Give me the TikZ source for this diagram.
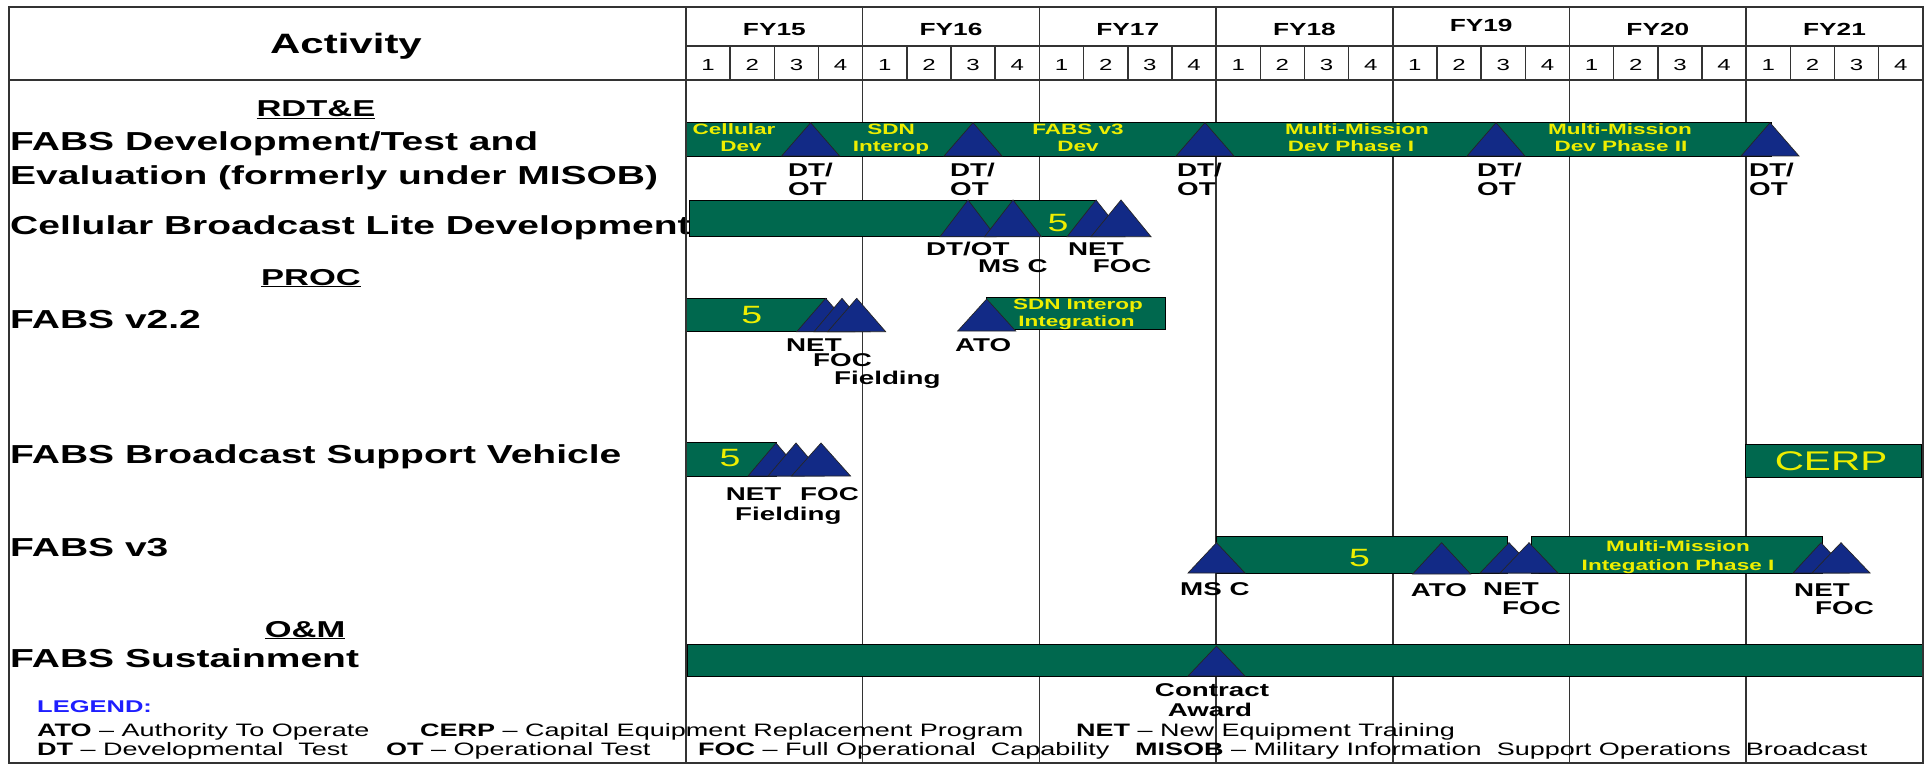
\documentclass[tikz,border=0pt]{standalone}
\usepackage{fontspec}
\setmainfont{Liberation Sans}[FakeStretch=1.5]
\definecolor{gbar}{RGB}{0,104,78}
\definecolor{navy}{RGB}{18,42,134}
\definecolor{yel}{RGB}{238,238,0}
\definecolor{legblue}{RGB}{30,30,255}
\newcommand{\mst}[4]{\filldraw[tri] (#1-#4,#3) -- (#1,#2) -- (#1+#4,#3) -- cycle;}
\tikzset{
  grid/.style={draw=black!80, line width=1.5pt},
  bar/.style={fill=gbar, draw=black, line width=0.9pt},
  tri/.style={fill=navy, draw=black!85, line width=0.7pt},
  lab/.style={font=\fontsize{26}{28}\selectfont\bfseries, anchor=base west, inner sep=0pt},
  sec/.style={font=\fontsize{23}{26}\selectfont\bfseries, anchor=base, inner sep=0pt},
  ylw/.style={font=\fontsize{15}{17}\selectfont\bfseries, text=yel, anchor=base, inner sep=0pt},
  bigfive/.style={font=\fontsize{25}{28}\selectfont, text=yel, anchor=base, inner sep=0pt},
  ms/.style={font=\fontsize{18.5}{20}\selectfont\bfseries, anchor=base west, inner sep=0pt},
  msc/.style={font=\fontsize{18.5}{20}\selectfont\bfseries, anchor=base, inner sep=0pt},
  leg/.style={font=\fontsize{18}{20}\selectfont, anchor=base west, inner sep=0pt},
  fy/.style={font=\fontsize{17.5}{20}\selectfont\bfseries, anchor=base, inner sep=0pt},
  qn/.style={font=\fontsize{16}{18}\selectfont, anchor=base, inner sep=0pt},
}
\begin{document}
\begin{tikzpicture}[x=1pt,y=-1pt]
\useasboundingbox (0,0) rectangle (1931,765);
\fill[white] (0,0) rectangle (1931,765);
% grid
\foreach \k in {1,...,6} \draw[grid] ({686+176.7*\k},7) -- ({686+176.7*\k},763);
\foreach \k in {0,...,6} \foreach \q in {1,2,3} \draw[grid] ({686+176.7*\k+44.175*\q},46) -- ({686+176.7*\k+44.175*\q},80);
\draw[grid] (686,46) -- (1923,46);
\draw[grid] (9,80) -- (1923,80);
% header text
\node[font=\fontsize{28}{30}\selectfont\bfseries, anchor=base, inner sep=0pt] (act) at (346,54) {Activity};
\foreach \k/\t/\yy in {0/FY15/36,1/FY16/36,2/FY17/36,3/FY18/36,4/FY19/32,5/FY20/36,6/FY21/36}
  \node[fy] (fy\k) at ({686+176.7*(\k+0.5)},\yy) {\t};
\foreach \k in {0,...,6} \foreach \q in {1,...,4}
  \node[qn] (q\k\q) at ({686+176.7*\k+44.175*(\q-0.5)},71) {\q};
% left labels
\node[sec] (rdte) at (316,117) {\underline{RDT\&E}};
\node[lab] (l1a) at (10,151) {FABS Development/Test and};
\node[lab] (l1b) at (10,184) {Evaluation (formerly under MISOB)};
\node[lab] (l2) at (10,234) {Cellular Broadcast Lite Development};
\node[sec] (proc) at (311,285) {\underline{PROC}};
\node[lab] (l3) at (10,328) {FABS v2.2};
\node[lab] (l4) at (10,463) {FABS Broadcast Support Vehicle};
\node[lab] (l5) at (10,556) {FABS v3};
\node[sec] (om) at (305,637) {\underline{O\&M}};
\node[lab] (l6) at (10,667) {FABS Sustainment};
% ---- row 1
\draw[bar] (686,122.7) rectangle (1771,156);
\mst{810.6}{122.7}{156}{29}
\mst{973}{122.7}{156}{29}
\mst{1205}{122.7}{156}{29}
\mst{1496}{122.7}{156}{29}
\mst{1770}{122.7}{156}{29}
\node[ylw] (r1a1) at (734,134.5) {Cellular};
\node[ylw] (r1a2) at (741,152) {Dev};
\node[ylw] (r1b1) at (891,134.5) {SDN};
\node[ylw] (r1b2) at (891,152) {Interop};
\node[ylw] (r1c1) at (1078,134.5) {FABS v3};
\node[ylw] (r1c2) at (1078,152) {Dev};
\node[ylw] (r1d1) at (1357,134.5) {Multi-Mission};
\node[ylw] (r1d2) at (1351,152) {Dev Phase I};
\node[ylw] (r1e1) at (1620,134.5) {Multi-Mission};
\node[ylw] (r1e2) at (1621,152) {Dev Phase II};
\foreach \xx [count=\i] in {788,950,1177,1477,1749}{
  \node[ms] (dt\i) at (\xx,177) {DT/};
  \node[ms] (ot\i) at (\xx,195) {OT};
}
% ---- row 2
\draw[bar] (689,200) rectangle (1096.7,236.7);
\mst{968}{200}{236.7}{28}
\mst{1013}{200}{236.7}{28.5}
\node[bigfive] (r2five) at (1058,231) {5};
\mst{1096}{200}{236.7}{29}
\mst{1121}{200}{236.7}{30}
\node[ms] (r2dtot) at (926,255) {DT/OT};
\node[ms] (r2msc) at (978,272.7) {MS C};
\node[ms] (r2net) at (1068,255) {NET};
\node[ms] (r2foc) at (1092.7,272.7) {FOC};
% ---- row 3
\draw[bar] (686,298.3) rectangle (826,331.7);
\node[bigfive] (r3five) at (751.7,323.3) {5};
\mst{825.7}{298.3}{331.7}{29}
\mst{842}{298.3}{331.7}{28}
\mst{856.7}{298.3}{331.7}{29}
\node[ms] (r3net) at (786,351) {NET};
\node[ms] (r3foc) at (813,366.7) {FOC};
\node[ms] (r3fld) at (834,384.3) {Fielding};
\draw[bar] (986.7,297.7) rectangle (1165,329.5);
\mst{986.7}{299}{331}{29}
\node[ylw] (r3s1) at (1078,309) {SDN Interop};
\node[ylw] (r3s2) at (1076.6,326.5) {Integration};
\node[ms] (r3ato) at (955,351.7) {ATO};
% ---- row 4
\draw[bar] (686,442) rectangle (776,476);
\node[bigfive] (r4five) at (730,466.7) {5};
\mst{776}{443}{476}{28}
\mst{796}{443}{476}{28}
\mst{821}{443}{476}{29.5}
\node[ms] (r4net) at (725.7,500) {NET};
\node[ms] (r4foc) at (800,500) {FOC};
\node[ms] (r4fld) at (735,520.7) {Fielding};
\draw[bar] (1745.5,444) rectangle (1921.7,477);
\node[font=\fontsize{27}{30}\selectfont, text=yel, anchor=base, inner sep=0pt] (cerp) at (1831,470) {CERP};
% ---- row 5
\draw[bar] (1216.5,536) rectangle (1507,573);
\draw[bar] (1531,536) rectangle (1822,573);
\mst{1216.5}{542.7}{573}{28.5}
\node[bigfive] (r5five) at (1359.6,566.7) {5};
\mst{1441.6}{542.7}{574}{29}
\mst{1509}{542.7}{573}{29}
\mst{1529}{542.7}{573}{29}
\mst{1821}{542.7}{573}{28}
\mst{1841}{542.7}{573}{29}
\node[ylw] (r5m1) at (1678,551.7) {Multi-Mission};
\node[ylw] (r5m2) at (1678,570) {Integation Phase I};
\node[ms] (r5msc) at (1180,595) {MS C};
\node[ms] (r5ato) at (1410.7,596) {ATO};
\node[ms] (r5net) at (1483,595) {NET};
\node[ms] (r5foc) at (1502,614) {FOC};
\node[ms] (r5net2) at (1794,596) {NET};
\node[ms] (r5foc2) at (1815,614) {FOC};
% ---- row 6
\draw[bar] (687,644) rectangle (1923,676);
\mst{1216.5}{646}{676}{28.5}
\node[msc] (r6c1) at (1212,696) {Contract};
\node[msc] (r6c2) at (1210,716.7) {Award};
% ---- frame
\draw[grid] (686,7) -- (686,763);
\draw[grid] (9,7) rectangle (1923,763);
% ---- legend
\node[font=\fontsize{17}{20}\selectfont\bfseries, text=legblue, anchor=base west, inner sep=0pt] (legh) at (37,712.7) {LEGEND:};
\node[leg] (lg1) at (37,736) {\textbf{ATO} -- Authority To Operate};
\node[leg] (lg2) at (420,736) {\textbf{CERP} -- Capital Equipment Replacement Program};
\node[leg] (lg3) at (1076,736) {\textbf{NET} -- New Equipment Training};
\node[leg] (lg4) at (37,755) {\textbf{DT} -- Developmental\ \ Test};
\node[leg] (lg5) at (386,755) {\textbf{OT} -- Operational Test};
\node[leg] (lg6) at (698,755) {\textbf{FOC} -- Full Operational\ \ Capability};
\node[leg] (lg7) at (1135,755) {\textbf{MISOB} -- Military Information\ \ Support Operations\ \ Broadcast};
\end{tikzpicture}
\end{document}
